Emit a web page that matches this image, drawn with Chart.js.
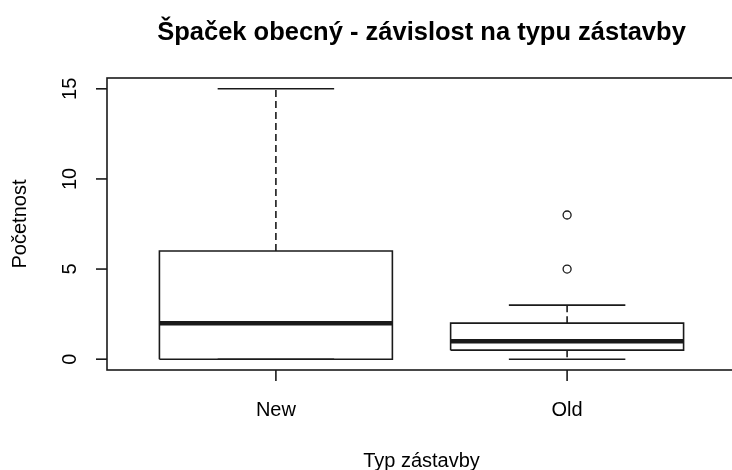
<!DOCTYPE html>
<html>
<head>
<meta charset="utf-8">
<script src="https://cdn.jsdelivr.net/npm/chart.js@4"></script>
<style>
  html, body { margin: 0; padding: 0; background: #fff; overflow: hidden; }
  #wrap { position: absolute; left: 0; top: 0; width: 744px; height: 470px; }
</style>
</head>
<body>
<div id="wrap"><canvas id="box"></canvas></div>
<script>
// data
const groups = ['New', 'Old'];
const lowWhisker = [0, 0];
const q1 = [0, 0.5];
const median = [2, 1];
const q3 = [6, 2];
const highWhisker = [15, 3];
const outliersOld = [5, 8];
const yTicks = [0, 5, 10, 15];

const titleText = 'Špaček obecný - závislost na typu zástavby';
const xTitle = 'Typ zástavby';
const yTitle = 'Početnost';

const INK = '#1a1a1a';
const BOX_HALF = 0.4;
const CAP_HALF = 0.2;

// build line datasets for each box
const datasets = [];
groups.forEach((g, i) => {
    const c = i + 1;
    // box outline
    datasets.push({
        data: [
            {x: c - BOX_HALF, y: q1[i]}, {x: c + BOX_HALF, y: q1[i]},
            {x: c + BOX_HALF, y: q3[i]}, {x: c - BOX_HALF, y: q3[i]},
            {x: c - BOX_HALF, y: q1[i]}
        ],
        borderWidth: 1.6
    });
    // median
    datasets.push({
        data: [{x: c - BOX_HALF, y: median[i]}, {x: c + BOX_HALF, y: median[i]}],
        borderWidth: 4.5
    });
    // whiskers (dashed)
    datasets.push({
        data: [{x: c, y: q3[i]}, {x: c, y: highWhisker[i]}],
        borderWidth: 1.6, borderDash: [7, 4]
    });
    datasets.push({
        data: [{x: c, y: q1[i]}, {x: c, y: lowWhisker[i]}],
        borderWidth: 1.6, borderDash: [7, 4]
    });
    // caps
    datasets.push({
        data: [{x: c - CAP_HALF, y: highWhisker[i]}, {x: c + CAP_HALF, y: highWhisker[i]}],
        borderWidth: 1.6
    });
    datasets.push({
        data: [{x: c - CAP_HALF, y: lowWhisker[i]}, {x: c + CAP_HALF, y: lowWhisker[i]}],
        borderWidth: 1.6
    });
});
datasets.forEach(d => {
    d.showLine = true;
    d.pointRadius = 0;
    d.borderColor = INK;
    d.fill = false;
});
// outliers
datasets.push({
    data: outliersOld.map(v => ({x: 2, y: v})),
    showLine: false,
    pointRadius: 4,
    pointBorderWidth: 1.3,
    pointBorderColor: INK,
    pointBackgroundColor: '#fff'
});

// axes, frame and text drawn R-style
const rFrame = {
    id: 'rFrame',
    afterDraw(chart) {
        const ctx = chart.ctx;
        const a = chart.chartArea;
        const xs = chart.scales.x, ys = chart.scales.y;
        ctx.save();
        ctx.strokeStyle = INK;
        ctx.lineWidth = 1.6;
        ctx.strokeRect(a.left, a.top, a.right - a.left, a.bottom - a.top);

        ctx.fillStyle = '#000';
        ctx.font = '20px "Liberation Sans", Arial, sans-serif';

        // y ticks
        ys.ticks.forEach(t => {
            const y = ys.getPixelForValue(t.value);
            ctx.beginPath();
            ctx.moveTo(a.left - 11, y);
            ctx.lineTo(a.left, y);
            ctx.stroke();
            ctx.save();
            ctx.translate(70, y);
            ctx.rotate(-Math.PI / 2);
            ctx.textAlign = 'center';
            ctx.textBaseline = 'middle';
            ctx.fillText(String(t.value), 0, 0);
            ctx.restore();
        });

        // x ticks
        xs.ticks.forEach(t => {
            const x = xs.getPixelForValue(t.value);
            ctx.beginPath();
            ctx.moveTo(x, a.bottom);
            ctx.lineTo(x, a.bottom + 11);
            ctx.stroke();
            ctx.textAlign = 'center';
            ctx.textBaseline = 'middle';
            ctx.fillText(groups[t.value - 1], x, 410);
        });

        // axis titles
        const midX = (a.left + a.right) / 2;
        const midY = (a.top + a.bottom) / 2;
        ctx.textAlign = 'center';
        ctx.textBaseline = 'middle';
        ctx.fillText(xTitle, midX, 461);
        ctx.save();
        ctx.translate(20, midY);
        ctx.rotate(-Math.PI / 2);
        ctx.fillText(yTitle, 0, 0);
        ctx.restore();

        // main title
        ctx.font = 'bold 25.5px "Liberation Sans", Arial, sans-serif';
        ctx.fillText(titleText, midX, 33);
        ctx.restore();
    }
};

new Chart(document.getElementById('box'), {
    type: 'scatter',
    data: { datasets: datasets },
    options: {
        responsive: true,
        maintainAspectRatio: false,
        animation: false,
        layout: { autoPadding: false, padding: { left: 107, top: 78, right: 8, bottom: 100 } },
        plugins: { legend: { display: false }, tooltip: { enabled: false } },
        scales: {
            x: {
                type: 'linear', min: 0.42, max: 2.58, display: false,
                afterBuildTicks: s => { s.ticks = groups.map((g, i) => ({value: i + 1})); }
            },
            y: {
                type: 'linear', min: -0.6, max: 15.6, display: false,
                afterBuildTicks: s => { s.ticks = yTicks.map(v => ({value: v})); }
            }
        }
    },
    plugins: [rFrame]
});
</script>
</body>
</html>
